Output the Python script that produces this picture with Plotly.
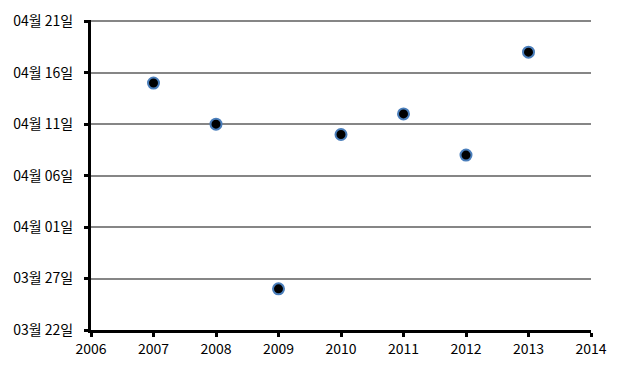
import plotly.graph_objects as go

years = [2007, 2008, 2009, 2010, 2011, 2012, 2013]
dates = ["2000-04-15", "2000-04-11", "2000-03-26", "2000-04-10", "2000-04-12", "2000-04-08", "2000-04-18"]

fig = go.Figure(go.Scatter(
    x=years, y=dates, mode="markers",
    marker=dict(size=11, color="black", line=dict(color="#4a7ebb", width=2)),
))

fig.update_layout(
    width=622, height=372,
    margin=dict(l=83, r=39, t=12, b=50),
    paper_bgcolor="white", plot_bgcolor="white",
    font=dict(family="Noto Sans CJK KR", size=14, color="black"),
    showlegend=False,
)
fig.update_xaxes(
    range=[2006, 2014], dtick=1, tick0=2006, automargin=False,
    showgrid=False, zeroline=False,
    showline=True, linecolor="black", linewidth=3,
    ticks="outside", ticklen=4, tickwidth=3, tickcolor="black",
)
fig.update_yaxes(
    type="date", range=["2000-03-22", "2000-04-21 03:00"], automargin=False,
    tick0="2000-03-22", dtick=5 * 86400000, tickformat="%m월 %d일",
    showgrid=True, gridcolor="#868686", gridwidth=1.5, zeroline=False,
    showline=True, linecolor="black", linewidth=3,
    ticks="outside", ticklen=4, tickwidth=3, tickcolor="black",
    ticklabelstandoff=8,
)
fig.write_html("out.html")
